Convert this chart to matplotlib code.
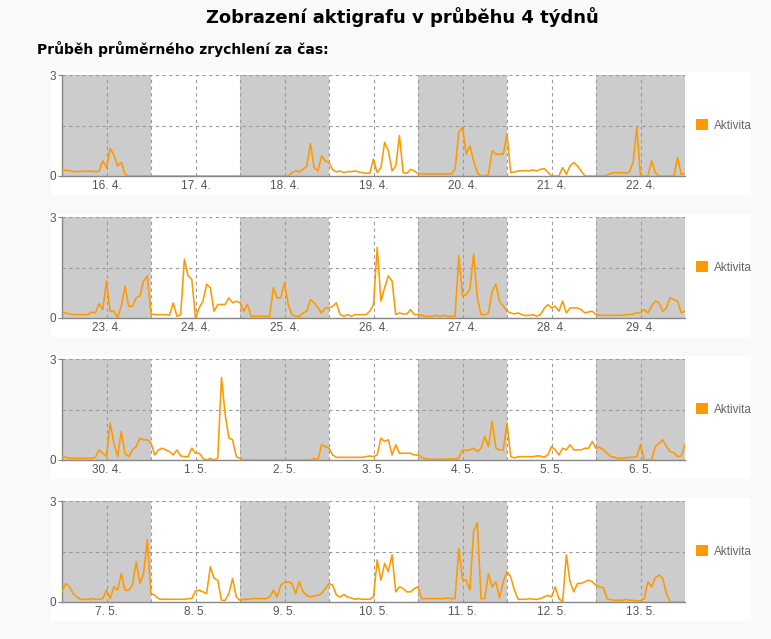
import matplotlib.pyplot as plt
import numpy as np
from matplotlib.patches import Patch, Rectangle

# Hourly mean acceleration, one list per week (7 days x 24 h + closing value)
week1_activity = [
    0.15, 0.17, 0.16, 0.13, 0.13, 0.14, 0.14, 0.14, 0.14, 0.13, 0.14, 0.45, 0.25, 0.82, 0.62, 0.3, 0.4, 0.05, 0, 0, 0, 0, 0, 0,
    0, 0, 0, 0, 0, 0, 0, 0, 0, 0, 0, 0, 0, 0, 0, 0, 0, 0, 0, 0, 0, 0, 0, 0,
    0, 0, 0, 0, 0, 0, 0, 0, 0, 0, 0, 0, 0, 0, 0.1, 0.15, 0.12, 0.2, 0.28, 0.97, 0.25, 0.15, 0.6, 0.45,
    0.4, 0.18, 0.12, 0.15, 0.1, 0.13, 0.13, 0.15, 0.12, 0.1, 0.08, 0.08, 0.5, 0.1, 0.25, 1.0, 0.75, 0.15, 0.3, 1.2, 0.1, 0.08, 0.2, 0.15,
    0.07, 0.06, 0.06, 0.06, 0.06, 0.06, 0.06, 0.06, 0.06, 0.06, 0.2, 1.3, 1.45, 0.65, 0.9, 0.45, 0.1, 0, 0, 0.05, 0.75, 0.65, 0.65, 0.65,
    1.25, 0.1, 0.12, 0.15, 0.15, 0.16, 0.15, 0.18, 0.15, 0.2, 0.22, 0.12, 0, 0, 0, 0.25, 0.05, 0.3, 0.4, 0.3, 0.15, 0, 0, 0,
    0, 0, 0, 0.03, 0.08, 0.1, 0.1, 0.1, 0.08, 0.12, 0.4, 1.45, 0, 0, 0, 0.45, 0.1, 0, 0, 0, 0, 0, 0.55, 0.05,
    0.08,
]
week2_activity = [
    0.2, 0.15, 0.12, 0.1, 0.1, 0.1, 0.1, 0.1, 0.18, 0.15, 0.42, 0.25, 1.1, 0.2, 0.2, 0.02, 0.35, 0.95, 0.35, 0.35, 0.6, 0.65, 1.1, 1.25,
    0.12, 0.1, 0.1, 0.1, 0.1, 0.08, 0.45, 0.05, 0.1, 1.75, 1.25, 1.15, 0.0, 0.3, 0.5, 1.0, 0.9, 0.2, 0.4, 0.4, 0.4, 0.6, 0.45, 0.5,
    0.45, 0.2, 0.4, 0.05, 0.05, 0.05, 0.05, 0.05, 0.05, 0.9, 0.6, 0.6, 1.05, 0.4, 0.1, 0.05, 0.05, 0.15, 0.2, 0.55, 0.45, 0.3, 0.15, 0.3,
    0.3, 0.35, 0.45, 0.1, 0.05, 0.1, 0.05, 0.1, 0.1, 0.1, 0.1, 0.2, 0.4, 2.1, 0.5, 0.9, 1.25, 1.1, 0.1, 0.15, 0.12, 0.12, 0.25, 0.1,
    0.1, 0.08, 0.05, 0.05, 0.05, 0.08, 0.05, 0.08, 0.05, 0.05, 0.05, 1.85, 0.65, 0.7, 0.85, 1.9, 0.6, 0.1, 0.1, 0.15, 0.8, 1.0, 0.5, 0.35,
    0.2, 0.15, 0.12, 0.15, 0.1, 0.07, 0.08, 0.1, 0.05, 0.1, 0.28, 0.4, 0.3, 0.35, 0.2, 0.5, 0.15, 0.3, 0.3, 0.3, 0.25, 0.15, 0.18, 0.2,
    0.1, 0.08, 0.08, 0.08, 0.08, 0.08, 0.08, 0.08, 0.1, 0.1, 0.12, 0.15, 0.15, 0.25, 0.15, 0.35, 0.5, 0.45, 0.2, 0.3, 0.6, 0.55, 0.5, 0.15,
    0.2,
]
week3_activity = [
    0.1, 0.08, 0.05, 0.05, 0.05, 0.05, 0.05, 0.05, 0.05, 0.08, 0.3, 0.2, 0.1, 1.1, 0.5, 0.1, 0.85, 0.2, 0.1, 0.3, 0.4, 0.65, 0.6, 0.6,
    0.5, 0.15, 0.3, 0.35, 0.3, 0.25, 0.15, 0.3, 0.12, 0.1, 0.1, 0.35, 0.2, 0.2, 0.05, 0, 0.05, 0, 0.05, 2.45, 1.35, 0.65, 0.6, 0.1,
    0.05, 0, 0, 0, 0, 0, 0, 0, 0, 0, 0, 0, 0, 0, 0, 0, 0, 0, 0, 0, 0.05, 0, 0.45, 0.4,
    0.35, 0.15, 0.08, 0.08, 0.08, 0.08, 0.08, 0.08, 0.08, 0.08, 0.1, 0.12, 0.1, 0.15, 0.65, 0.55, 0.6, 0.15, 0.45, 0.2, 0.2, 0.2, 0.2, 0.15,
    0.15, 0.08, 0.04, 0.02, 0.02, 0.02, 0.02, 0.03, 0.03, 0.03, 0.03, 0.06, 0.3, 0.28, 0.3, 0.35, 0.25, 0.35, 0.7, 0.4, 1.15, 0.35, 0.3, 0.3,
    1.1, 0.1, 0.06, 0.1, 0.1, 0.1, 0.1, 0.1, 0.12, 0.12, 0.08, 0.15, 0.4, 0.3, 0.15, 0.35, 0.3, 0.45, 0.3, 0.3, 0.3, 0.35, 0.35, 0.55,
    0.35, 0.38, 0.3, 0.2, 0.1, 0.08, 0.05, 0.05, 0.06, 0.08, 0.08, 0.1, 0.45, 0, 0, 0, 0.4, 0.5, 0.6, 0.4, 0.25, 0.22, 0.1, 0.12,
    0.45,
]
week4_activity = [
    0.3, 0.55, 0.45, 0.25, 0.15, 0.08, 0.08, 0.08, 0.1, 0.08, 0.08, 0.1, 0.35, 0.1, 0.45, 0.35, 0.85, 0.35, 0.35, 0.5, 1.2, 0.55, 0.85, 1.85,
    0.25, 0.2, 0.1, 0.08, 0.08, 0.08, 0.08, 0.08, 0.08, 0.08, 0.1, 0.1, 0.33, 0.35, 0.3, 0.25, 1.05, 0.7, 0.65, 0.05, 0.05, 0.25, 0.7, 0.15,
    0.05, 0.08, 0.08, 0.1, 0.1, 0.1, 0.1, 0.1, 0.15, 0.35, 0.15, 0.5, 0.58, 0.6, 0.55, 0.25, 0.6, 0.3, 0.2, 0.15, 0.18, 0.2, 0.25, 0.4,
    0.55, 0.5, 0.2, 0.15, 0.22, 0.15, 0.12, 0.08, 0.1, 0.08, 0.08, 0.08, 0.15, 1.25, 0.65, 1.15, 0.9, 1.4, 0.3, 0.45, 0.4, 0.3, 0.3, 0.4,
    0.45, 0.1, 0.1, 0.1, 0.1, 0.1, 0.1, 0.1, 0.12, 0.1, 0.1, 1.6, 0.65, 0.65, 0.35, 2.1, 2.35, 0.1, 0.1, 0.85, 0.45, 0.6, 0.12, 0.6,
    0.9, 0.75, 0.35, 0.08, 0.08, 0.08, 0.1, 0.08, 0.08, 0.1, 0.15, 0.2, 0.15, 0.45, 0.1, 0.0, 1.4, 0.6, 0.3, 0.55, 0.55, 0.6, 0.65, 0.6,
    0.5, 0.45, 0.42, 0.1, 0.07, 0.05, 0.06, 0.04, 0.08, 0.05, 0.05, 0.03, 0.04, 0.1, 0.6, 0.45, 0.72, 0.8, 0.7, 0.25, 0, 0, 0, 0,
    0,
]

week1_days = ["16. 4.", "17. 4.", "18. 4.", "19. 4.", "20. 4.", "21. 4.", "22. 4."]
week2_days = ["23. 4.", "24. 4.", "25. 4.", "26. 4.", "27. 4.", "28. 4.", "29. 4."]
week3_days = ["30. 4.", "1. 5.", "2. 5.", "3. 5.", "4. 5.", "5. 5.", "6. 5."]
week4_days = ["7. 5.", "8. 5.", "9. 5.", "10. 5.", "11. 5.", "12. 5.", "13. 5."]

weeks = [
    (week1_activity, week1_days),
    (week2_activity, week2_days),
    (week3_activity, week3_days),
    (week4_activity, week4_days),
]

W, H = 771, 639
ORANGE = "#ff9900"
GRID = "#999999"

fig = plt.figure(figsize=(W / 100, H / 100), dpi=100, facecolor="#f9f9f9")
fig.text(402 / W, 1 - 17 / H, "Zobrazení aktigrafu v průběhu 4 týdnů",
         ha="center", va="center", fontsize=13, fontweight="bold", family="DejaVu Sans")
fig.text(37 / W, 1 - 49 / H, "Průběh průměrného zrychlení za čas:",
         ha="left", va="center", fontsize=10, fontweight="bold", family="DejaVu Sans")

# pixel row of the zero line for each panel
zero_rows = [176, 318, 460, 602]

for (values, days), zero in zip(weeks, zero_rows):
    # white card behind each panel
    fig.patches.append(Rectangle((51 / W, (H - zero - 19) / H), 700 / W, 123 / H,
                                 transform=fig.transFigure, facecolor="white",
                                 edgecolor="none", zorder=-1))
    ax = fig.add_axes([62 / W, (H - zero) / H, 623 / W, 101 / H])
    ax.set_facecolor("white")

    for d in range(0, 7, 2):
        ax.axvspan(d, d + 1, color="#cccccc", lw=0, zorder=0)

    x = np.arange(len(values)) / 24
    ax.plot(x, values, color=ORANGE, lw=1.15, label="Aktivita", zorder=3)

    ax.set_xlim(0, 7)
    ax.set_ylim(0, 3)
    ax.set_xticks(np.arange(7) + 0.5)
    ax.set_xticklabels(days)
    ax.set_xticks(np.arange(0, 7.01, 0.5), minor=True)
    ax.set_yticks([0, 3])
    ax.set_yticks([1.5], minor=True)

    ax.set_axisbelow("line")
    ax.grid(True, which="both", color=GRID, lw=0.8, ls=(0, (3, 3)))
    ax.tick_params(axis="x", which="both", length=0, pad=3, labelsize=8.5, labelcolor="#555555")
    ax.tick_params(axis="y", which="major", length=3, width=0.8, color="#888888", pad=1,
                   labelsize=8.5, labelcolor="#555555")
    ax.tick_params(axis="y", which="minor", length=0)
    for lab in ax.get_xticklabels() + ax.get_yticklabels():
        lab.set_family("Liberation Sans")

    for side in ("top", "right"):
        ax.spines[side].set_visible(False)
    for side in ("left", "bottom"):
        ax.spines[side].set_color("#888888")
        ax.spines[side].set_linewidth(1)

    leg = ax.legend(handles=[Patch(facecolor=ORANGE, edgecolor="none", label="Aktivita")],
                    loc="center left", bbox_to_anchor=(1 + 11 / 623, 0.5), frameon=False,
                    handlelength=1.0, handleheight=1.0, handletextpad=0.5,
                    borderpad=0, borderaxespad=0,
                    prop={"family": "Liberation Sans", "size": 8.5})
    for t in leg.get_texts():
        t.set_color("#666666")

fig.savefig("out.png", dpi=100, facecolor=fig.get_facecolor())
